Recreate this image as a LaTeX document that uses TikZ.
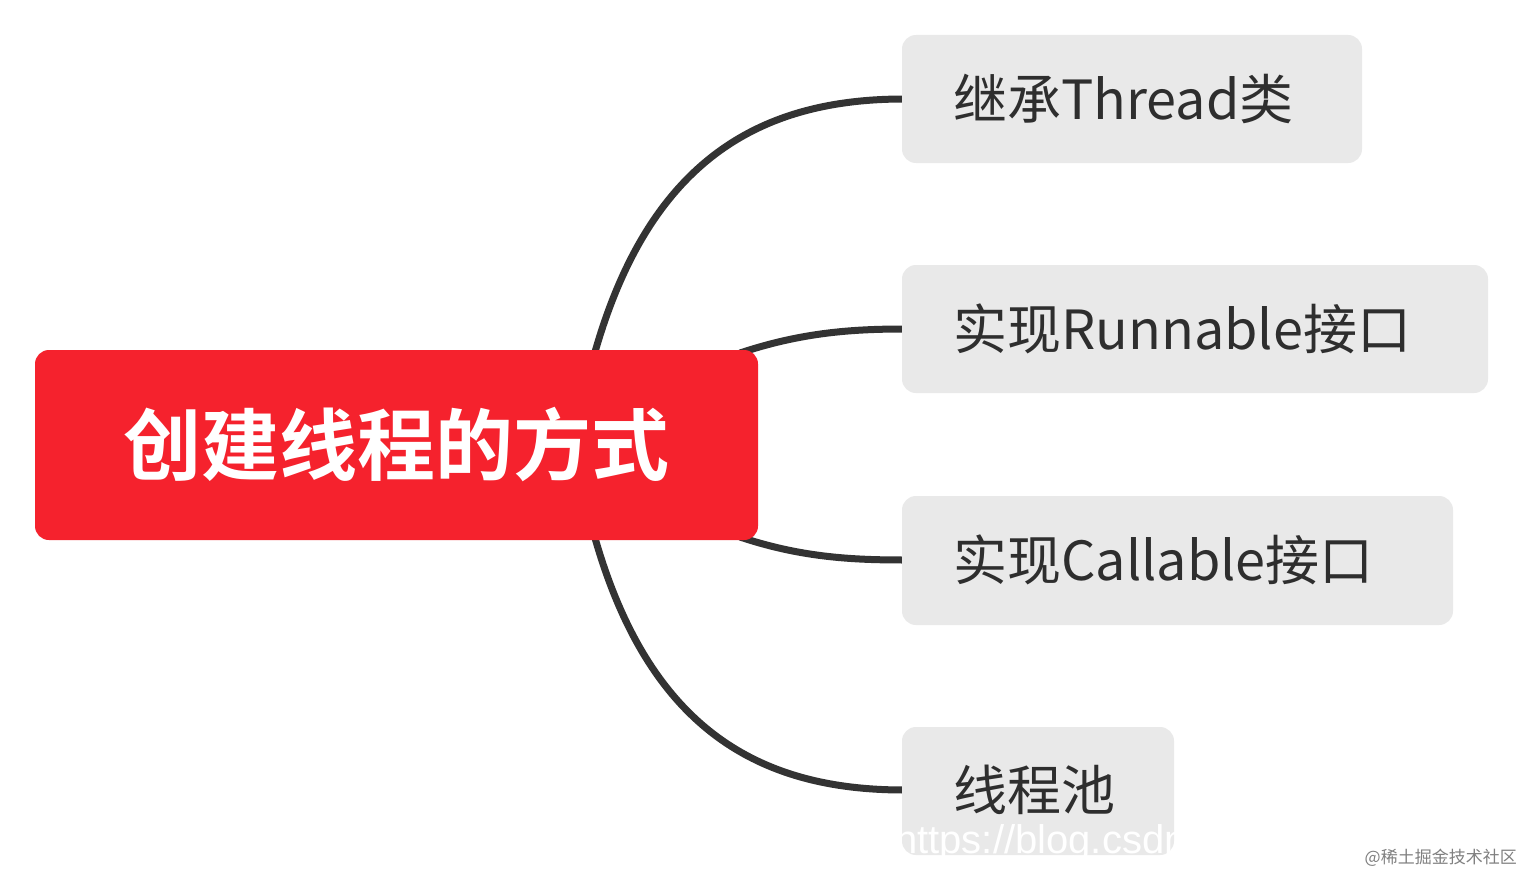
\documentclass[tikz,border=0pt]{standalone}
\usepackage{fontspec}
\newfontfamily\cjk{Noto Sans CJK SC}
\newfontfamily\cjkb{Noto Sans CJK SC Bold}
\usetikzlibrary{calc}
\definecolor{rootred}{HTML}{F5222D}
\definecolor{boxgray}{HTML}{E9E9E9}
\definecolor{linegray}{HTML}{333333}
\tikzset{x=1pt,y=-1pt,
 child/.style={fill=boxgray,rounded corners=14pt,inner sep=0pt},
 ctext/.style={anchor=west,font=\cjk\fontsize{54}{60}\selectfont,text=linegray!90!black,inner sep=0pt},
 conn/.style={draw=linegray,line width=7pt}}
\begin{document}
\begin{tikzpicture}
\useasboundingbox[fill=white] (0,0) rectangle (1524,875);
\coordinate (s1) at (595,352);
\coordinate (s2) at (740,353);
\coordinate (s3) at (740,537);
\coordinate (s4) at (595,538);
\coordinate (e1) at (904,99);
\coordinate (e2) at (904,329);
\coordinate (e3) at (904,560);
\coordinate (e4) at (904,790);
\draw[conn] (s1) .. controls (650,160) and (760,99) .. (e1);
\draw[conn] (s2) .. controls (800,333) and (850,329) .. (e2);
\draw[conn] (s3) .. controls (800,557) and (850,560) .. (e3);
\draw[conn] (s4) .. controls (650,730) and (760,790) .. (e4);
\fill[child] (902,35) rectangle (1362,163);
\fill[child] (902,265) rectangle (1488,393);
\fill[child] (902,496) rectangle (1453,625);
\fill[child] (902,727) rectangle (1174,855);
\node[ctext] (c1) at (953,99) {继承Thread类};
\node[ctext] (c2) at (953,329) {实现Runnable接口};
\node[ctext] (c3) at (953,560) {实现Callable接口};
\node[ctext] (c4) at (953,790) {线程池};
\fill[rootred,rounded corners=14pt] (35,350) rectangle (758,540);
\node[font=\cjkb\fontsize{78}{84}\selectfont,text=white,inner sep=0pt] (root) at (396,445) {创建线程的方式};
\node[font=\fontspec{Liberation Sans}\fontsize{40}{44}\selectfont,text=white,inner sep=0pt,anchor=west] (wm) at (895,843) {https://blog.csdn};
\node[font=\cjk\fontsize{17}{20}\selectfont,text=gray,inner sep=0pt,anchor=east] (wm2) at (1517,858) {@稀土掘金技术社区};
\end{tikzpicture}
\end{document}
